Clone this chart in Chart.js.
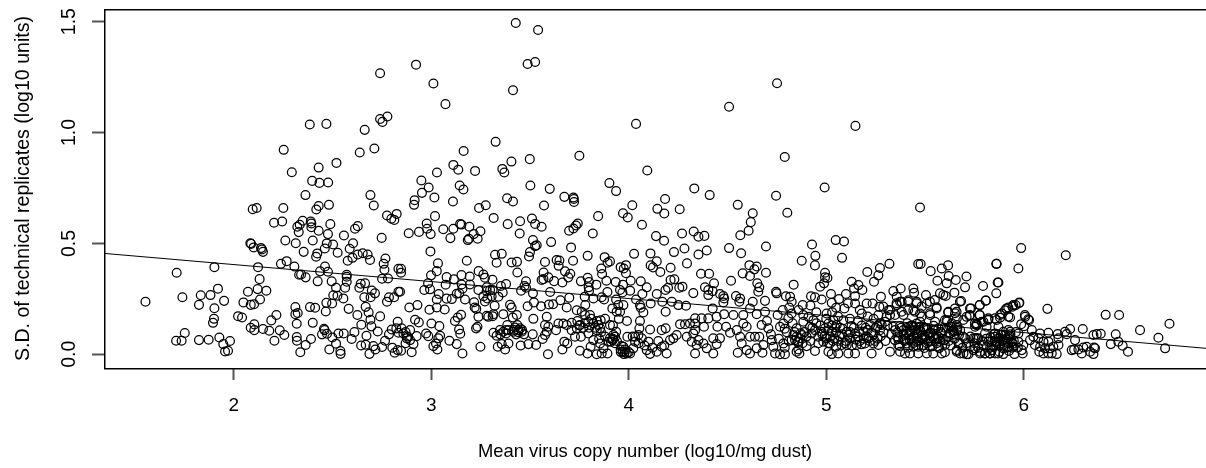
<!DOCTYPE html>
<html>
<head>
<meta charset="utf-8">
<style>html,body{margin:0;padding:0;background:#fff}canvas{display:block}</style>
<script src="https://cdn.jsdelivr.net/npm/chart.js@4"></script>
</head>
<body>
<canvas id="scatter" width="1206" height="468"></canvas>
<script>
var xTickValues = [2,3,4,5,6];
var yTickValues = [0,0.5,1,1.5];
var xTitle = 'Mean virus copy number (log10/mg dust)';
var yTitle = 'S.D. of technical replicates (log10 units)';

// [mean copy number, s.d.], one list per stretch of the x axis
var upperPoints = [[2.741,1.267],[2.778,1.072],[2.741,1.061],[2.753,1.048],[2.385,1.036],[2.469,1.039],[2.663,1.012],[2.253,.922],[2.712,.928],[2.638,.91],[2.52,.863],[2.43,.842],[2.294,.821],[2.397,.782],[2.434,.773],[2.478,.775],[2.363,.718],[2.692,.718],
[3.428,1.494],[3.541,1.462],[2.923,1.306],[3.488,1.309],[3.526,1.318],[3.011,1.221],[3.414,1.191],[4.751,1.222],[3.072,1.128],[4.508,1.116],[4.037,1.039],[5.148,1.03],[3.326,.958],[3.164,.917],[3.75,.895],[4.79,.89],[3.499,.88],[3.406,.869],[3.112,.854],[3.137,.832],[3.222,.827],[3.029,.82],[3.36,.836],[3.37,.82],[4.094,.829],[2.95,.784],[2.987,.752],[2.953,.728],[3.016,.707],[3.144,.761],[3.163,.743],[3.502,.761],[3.6,.746],[3.902,.772],[3.936,.736],[4.332,.748],[4.41,.718],[4.184,.7],[4.746,.715],[4.992,.752],[2.916,.695],[3.11,.689],[3.384,.704],[3.414,.689],[3.674,.71],[3.72,.707],[3.722,.7]];

var lowCopy = [[1.553,.237],[1.711,.368],[1.74,.257],[1.752,.096],[1.708,.061],[1.736,.061],[1.824,.064],[1.873,.066],[1.927,.076],[1.981,.06],[1.947,.046],[1.956,.013],[1.971,.016],[1.9,.16],[1.895,.142],[1.902,.208],[1.951,.241],[1.824,.223],[1.833,.266],[1.882,.267],[1.92,.296],[1.902,.393],[2.022,.172],[2.042,.166],[2.049,.234],[2.072,.282],[2.086,.223],[2.103,.226],[2.121,.294],[2.133,.247],[2.165,.287],[2.131,.339],[2.123,.393],[2.086,.12],[2.104,.135],[2.104,.109],[2.148,.114],[2.18,.106],[2.19,.153],[2.216,.177],[2.233,.108],[2.256,.087],[2.206,.061],[2.312,.213],[2.312,.181],[2.324,.186],[2.319,.138],[2.319,.078],[2.32,.061],[2.364,.042],[2.337,.009],[2.391,.069],[2.4,.142],[2.386,.213],[2.412,.21],[2.466,.193],[2.469,.232],[2.498,.229],[2.582,.205],[2.626,.177],[2.668,.214],[2.683,.189],[2.692,.156],[2.646,.133],[2.697,.126],[2.741,.171],[2.729,.103],[2.672,.084],[2.611,.1],[2.557,.094],[2.53,.094],[2.457,.115],[2.46,.109],[2.447,.09],[2.472,.093],[2.499,.076],[2.518,.048],[2.484,.022],[2.54,.015],[2.541,.002],[2.597,.069],[2.645,.04],[2.668,.043],[2.687,.002],[2.707,.037],[2.717,.022],[2.751,.033],[2.766,.061],[2.786,.09],[2.8,.112],[2.823,.117],[2.83,.147],[2.834,.097],[2.803,.03],[2.815,.007],[2.83,.019],
[2.096,.654],[2.116,.66],[2.251,.66],[2.204,.593],[2.245,.599],[2.418,.653],[2.43,.669],[2.482,.674],[2.709,.671],[2.776,.626],[2.825,.633],[2.798,.611],[2.813,.606],[2.349,.602],[2.334,.584],[2.322,.575],[2.329,.551],[2.39,.599],[2.393,.59],[2.393,.573],[2.43,.557],[2.489,.587],[2.477,.542],[2.558,.536],[2.614,.566],[2.628,.578],[2.749,.525],[2.261,.513],[2.314,.501],[2.4,.513],[2.471,.5],[2.503,.495],[2.604,.501],[2.084,.501],[2.088,.498],[2.101,.482],[2.138,.479],[2.143,.473],[2.148,.462],[2.354,.462],[2.461,.477],[2.423,.455],[2.417,.44],[2.526,.458],[2.587,.476],[2.628,.45],[2.653,.456],[2.678,.45],[2.601,.435],[2.577,.422],[2.69,.425],[2.768,.432],[2.759,.408],[2.763,.381],[2.751,.341],[2.781,.342],[2.834,.386],[2.239,.408],[2.268,.42],[2.307,.396],[2.331,.359],[2.341,.36],[2.364,.347],[2.425,.329],[2.437,.374],[2.462,.396],[2.477,.372],[2.496,.329],[2.518,.3],[2.564,.3],[2.572,.359],[2.572,.35],[2.572,.327],[2.636,.3],[2.643,.318],[2.665,.32],[2.504,.266],[2.525,.264],[2.555,.252],[2.661,.257],[2.693,.257],[2.699,.288],[2.715,.275],[2.786,.257],[2.812,.257],[2.776,.237],[2.834,.282]];

var midCopy = [[2.913,.674],[3.242,.66],[3.276,.672],[3.571,.671],[3.723,.687],[4.018,.672],[3.971,.636],[3.995,.617],[4.145,.656],[4.18,.635],[4.258,.654],[3.845,.623],[4.067,.584],[3.316,.615],[3.387,.587],[3.45,.6],[3.51,.612],[3.526,.588],[3.559,.575],[3.448,.545],[3.019,.623],[2.977,.59],[2.979,.566],[2.886,.546],[2.938,.552],[2.997,.542],[3.061,.564],[3.112,.566],[3.146,.588],[3.153,.585],[3.193,.575],[3.097,.524],[3.185,.515],[3.191,.521],[3.215,.542],[3.249,.555],[3.235,.521],[3.742,.59],[3.733,.581],[3.72,.567],[3.698,.557],[3.818,.545],[4.138,.533],[4.179,.512],[4.27,.545],[4.329,.554],[4.353,.53],[3.515,.515],[3.534,.492],[3.526,.488],[3.607,.506],[3.708,.482],[3.5,.461],[3.495,.441],[2.996,.464],[3.323,.449],[3.357,.453],[3.331,.413],[3.18,.422],[3.034,.41],[3.028,.375],[3.407,.414],[3.434,.417],[3.436,.369],[3.576,.416],[3.635,.425],[3.649,.423],[3.645,.399],[3.718,.422],[3.792,.444],[3.878,.438],[3.893,.413],[3.905,.419],[3.861,.387],[3.865,.362],[4.027,.453],[4.11,.455],[4.229,.461],[4.282,.477],[4.295,.41],[4.353,.45],[4.142,.419],[4.111,.401],[4.123,.392],[4.16,.371],[4.212,.39],[3.959,.393],[3.986,.402],[3.975,.387],[3.986,.366],[3.24,.375],[3.264,.36],[3.272,.345],[3.31,.336],[2.999,.356],[3.078,.348],[3.115,.338],[3.153,.357],[3.195,.351],[3.569,.369],[3.677,.374],[3.704,.363],[3.694,.347],[3.568,.339],[3.559,.335],[3.593,.347],[3.622,.33],[3.664,.324],[3.48,.329],[3.379,.317],[3.353,.308],[3.472,.308],[3.48,.3],[3.758,.329],[3.792,.345],[3.799,.326],[3.797,.302],[3.799,.287],[3.836,.314],[3.887,.332],[3.934,.326],[3.971,.314],[4.01,.332],[4.061,.329],[4.091,.302],[2.847,.386],[2.847,.368],[2.842,.282],[2.984,.32],[2.965,.29],[2.994,.293],[3.073,.314],[3.154,.315],[3.196,.315],[3.158,.296],[3.239,.29],[3.281,.302],[3.298,.29],[3.281,.285],[3.311,.29],[3.362,.279],[3.455,.287],[3.515,.275],[3.602,.281],[3.038,.272],[3.078,.251],[3.028,.247],[3.104,.249],[3.129,.273],[3.142,.275],[3.171,.247],[3.264,.262],[3.284,.252],[3.306,.262],[3.34,.26],[3.217,.235],[3.22,.211],[3.228,.205],[3.272,.238],[3.321,.219],[3.399,.223],[3.407,.211],[3.488,.217],[3.52,.234],[3.556,.217],[3.596,.225],[3.617,.226],[3.654,.244],[3.699,.255],[3.686,.211],[3.777,.26],[3.78,.222],[3.821,.252],[3.863,.257],[3.875,.247],[3.892,.281],[3.936,.247],[3.956,.29],[3.968,.279],[4.007,.287],[4.037,.247],[4.069,.272],[4.111,.229],[4.142,.272],[4.186,.29],[4.199,.3],[4.212,.335],[4.231,.338],[4.256,.3],[4.272,.305],[4.327,.276],[4.29,.219],[4.218,.237],[4.17,.237],[4.187,.192],[4.251,.222],[4.057,.222],[4.061,.21],[4.074,.189],[3.947,.222],[3.973,.222],[3.917,.207],[3.939,.192],[3.956,.192],[2.889,.211],[2.93,.222],[2.991,.201],[3.028,.211],[3.068,.202],[3.151,.178],[3.134,.166],[3.12,.15],[2.918,.156],[2.937,.144],[3.001,.139],[3.041,.127],[3.141,.112],[3.147,.093],[3.227,.117],[3.234,.124],[3.239,.169],[3.281,.174],[3.289,.169],[3.315,.181],[3.311,.172],[3.365,.181],[3.433,.177],[3.413,.166],[3.517,.16],[3.585,.169],[3.737,.199],[3.762,.192],[3.779,.177],[3.804,.177],[3.795,.147],[3.821,.139],[3.846,.132],[3.858,.154],[3.991,.15],[4.057,.15],[4.054,.117],[4.108,.112],[4.167,.109],[4.187,.117],[4.26,.136],[4.285,.136],[4.31,.139],[4.336,.162],[4.336,.139],[4.336,.109],[3.644,.139],[3.669,.139],[3.686,.132],[3.711,.142],[3.737,.117],[3.753,.132],[3.905,.132],[3.385,.132],[3.436,.132],[3.424,.121],[3.441,.109],[3.45,.117],[3.458,.102],[3.416,.102],[3.365,.102],[3.379,.094],[3.391,.109],[3.348,.109],[3.315,.097],[3.331,.084],[3.576,.132],[3.593,.124],[3.585,.102],[3.576,.087],[3.514,.09],[3.564,.069],[3.632,.109],[3.711,.109],[3.728,.079],[3.758,.079],[3.796,.094],[3.838,.109],[3.855,.117],[2.85,.117],[2.893,.109],[2.859,.094],[2.876,.072],[2.893,.064],[2.91,.046],[2.926,.082],[2.974,.094],[2.985,.082],[3.045,.084],[3.036,.072],[3.024,.049],[3.011,.037],[3.031,.022],[3.092,.061],[3.129,.046],[3.158,.004],[2.901,.009],[2.847,.016],[3.249,.034],[3.337,.034],[3.357,.046],[3.374,.022],[3.391,.049],[3.453,.04],[3.492,.046],[3.531,.042],[3.591,0],[3.664,.022],[3.674,.057],[3.689,.049],[3.753,.016],[3.791,.004],[3.807,.034],[3.838,0],[3.863,.004],[3.892,.004],[3.855,.049],[3.821,.064],[3.872,.027],[3.905,.072],[3.919,.064],[3.91,.057],[3.931,.079],[3.897,.057],[3.936,.102],[3.922,.087],[3.959,.022],[3.969,.012],[3.976,.001],[3.964,.037],[3.99,.004],[4.007,.004],[3.981,.022],[3.973,.034],[3.993,.079],[4.023,.027],[4.032,.079],[4.049,.087],[4.066,.072],[4.032,.057],[4.1,.057],[4.091,.019],[4.108,.002],[4.142,.012],[4.167,.034],[4.192,.004],[4.209,.064],[4.226,.072],[4.243,.087],[4.294,.079],[4.319,.057],[4.336,.004],[4.344,.042],[4.353,.064],[4.327,.094]];

var highCopy = [[4.552,.674],[4.803,.638],[4.628,.636],[4.618,.596],[4.607,.557],[4.565,.537],[4.383,.534],[5.475,.662],[4.508,.479],[4.395,.468],[4.569,.456],[4.695,.486],[4.928,.495],[5.048,.515],[5.09,.509],[4.945,.444],[5.08,.435],[4.876,.422],[4.943,.401],[5.32,.408],[5.272,.389],[5.264,.356],[5.208,.371],[5.242,.327],[5.466,.407],[5.478,.407],[5.529,.375],[5.585,.387],[5.617,.401],[5.62,.353],[5.563,.332],[5.61,.32],[5.656,.335],[5.71,.351],[5.703,.302],[5.794,.308],[5.861,.408],[5.868,.324],[5.861,.275],[5.807,.242],[5.777,.222],[5.683,.24],[5.649,.278],[5.576,.275],[5.593,.267],[5.605,.263],[4.611,.402],[4.648,.396],[4.636,.383],[4.577,.365],[4.614,.353],[4.695,.368],[4.407,.363],[4.366,.363],[4.518,.332],[4.432,.32],[4.386,.302],[4.403,.29],[4.425,.285],[4.403,.267],[4.462,.272],[4.479,.263],[4.483,.252],[4.479,.234],[4.543,.263],[4.564,.252],[4.56,.237],[4.651,.32],[4.661,.302],[4.656,.282],[4.69,.241],[4.628,.237],[4.614,.207],[4.746,.282],[4.749,.275],[4.835,.314],[4.796,.262],[4.817,.26],[4.825,.237],[4.813,.211],[4.881,.222],[4.923,.262],[4.943,.257],[4.969,.305],[4.989,.32],[4.994,.347],[4.994,.368],[5.006,.344],[4.977,.247],[5.024,.272],[5.028,.232],[5.065,.249],[5.1,.272],[5.129,.327],[5.141,.297],[5.163,.312],[5.183,.29],[5.146,.262],[5.146,.229],[5.092,.207],[5.205,.229],[5.235,.229],[5.269,.214],[5.277,.26],[5.34,.285],[5.377,.297],[5.357,.26],[5.374,.237],[5.357,.222],[5.315,.199],[5.416,.244],[5.441,.297],[5.445,.278],[5.458,.237],[5.505,.267],[5.509,.229],[5.559,.207],[5.526,.177],[5.475,.184],[5.441,.199],[5.391,.177],[5.323,.177],[5.264,.177],[5.18,.184],[5.087,.154],[5.002,.184],[4.935,.154],[4.884,.177],[4.825,.184],[4.754,.177],[4.69,.192],[4.648,.181],[4.58,.177],[4.53,.177],[4.483,.181],[4.425,.207],[4.445,.169],[4.403,.162],[4.369,.162],[4.449,.124],[4.381,.124],[4.493,.124],[4.513,.097],[4.547,.109],[4.58,.139],[4.597,.124],[4.564,.079],[4.572,.049],[4.614,.079],[4.639,.079],[4.661,.079],[4.673,.132],[4.707,.117],[4.428,.072],[4.462,.072],[4.445,.046],[4.378,.049],[4.395,.027],[4.428,.004],[4.552,.007],[4.597,.019],[4.614,.004],[4.648,.027],[4.677,.007],[4.682,.042],[4.724,.064],[4.732,.034],[4.741,.004],[4.766,0],[4.791,0],[4.783,.049],[4.766,.124],[4.783,.139],[4.808,.162],[4.85,.117],[4.834,.087],[4.85,.079],[4.867,.072],[4.842,.064],[4.859,.057],[4.876,.087],[4.825,.064],[4.85,.012],[4.864,.004],[4.859,.022],[4.901,.037],[4.943,.015],[4.884,.147],[4.91,.169],[4.918,.124],[4.943,.109],[4.926,.094],[4.96,.079],[4.977,.102],[4.994,.117],[5.011,.139],[5.036,.154],[5.053,.132],[5.028,.102],[5.002,.072],[4.985,.057],[5.019,.049],[5.011,.012],[5.028,.001],[5.061,.004],[5.05,.034],[5.078,.042],[5.104,.042],[5.112,.004],[5.146,.004],[5.154,.042],[5.12,.072],[5.146,.094],[5.104,.102],[5.188,.102],[5.205,.079],[5.222,.132],[5.196,.049],[5.23,.004],[5.239,.049],[5.264,.042],[5.323,.012],[5.281,.132],[5.298,.147],[5.272,.109],[5.34,.124],[5.348,.064],[5.365,.042],[5.374,.012],[5.399,.004],[5.424,.004],[5.466,.004],[5.509,.004],[5.542,.004],[5.585,.004],[5.601,.009],[5.391,.109],[5.408,.094],[5.424,.109],[5.441,.124],[5.458,.139],[5.475,.147],[5.492,.124],[5.509,.109],[5.526,.094],[5.542,.109],[5.475,.109],[5.458,.094],[5.441,.079],[5.424,.064],[5.408,.049],[5.391,.064],[5.458,.057],[5.483,.072],[5.5,.079],[5.517,.057],[5.492,.042],[5.441,.034],[5.466,.034],[5.526,.034],[5.551,.072],[5.568,.079],[5.585,.094],[5.576,.057],[5.601,.064],[5.568,.034],[5.601,.042],[5.627,.094],[5.644,.109],[5.661,.132],[5.618,.117],[5.678,.109],[5.661,.162],[5.61,.154],[5.568,.117],[5.551,.147],[5.703,.072],[5.661,.019],[5.678,.004],[5.711,0],[5.728,.034],[5.754,.072],[5.77,.072],[5.745,.019],[5.779,.012],[5.804,.004],[5.829,.004],[5.855,.004],[5.812,.034],[5.855,.057],[5.872,.072],[5.762,.132],[5.796,.147],[5.753,.139],[5.821,.162],[5.855,.162],[5.812,.124],[5.711,.169],[5.728,.177],[5.652,.207],[5.618,.192]];

var topCopy = [[5.987,.479],[6.213,.447],[5.863,.408],[5.973,.387],[5.872,.324],[5.976,.231],[5.959,.222],[5.943,.215],[5.922,.211],[5.905,.199],[5.889,.184],[6.12,.205],[5.733,.207],[5.725,.174],[5.776,.177],[5.821,.157],[5.88,.165],[5.931,.166],[6.007,.169],[6.027,.154],[5.987,.136],[6.002,.127],[6.041,.109],[6.125,.097],[6.172,.091],[6.235,.114],[6.299,.114],[6.209,.102],[6.218,.091],[6.26,.064],[6.353,.087],[6.37,.091],[6.39,.093],[6.415,.178],[6.483,.177],[6.589,.109],[6.738,.138],[6.682,.075],[6.716,.027],[6.466,.09],[6.441,.046],[6.479,.057],[6.501,.039],[6.528,.012],[6.353,.001],[6.356,.031],[6.361,.027],[6.336,.012],[6.294,.004],[6.302,.031],[6.277,.022],[6.243,.019],[6.255,.022],[6.319,.034],[6.167,.001],[6.142,.004],[6.125,.004],[6.1,.004],[6.079,.012],[6.176,.042],[6.15,.034],[6.125,.057],[6.1,.057],[6.074,.072],[6.049,.079],[6.057,.042],[6.032,.064],[6.083,.094],[6.176,.072],[6.133,.027],[6.108,.027],[6.083,.034],[5.995,.004],[5.953,.001],[5.897,.001],[5.872,.004],[5.83,.004],[5.804,.004],[5.779,.004],[5.855,.079],[5.88,.072],[5.905,.087],[5.922,.072],[5.939,.057],[5.905,.057],[5.88,.042],[5.863,.057],[5.897,.027],[5.922,.034],[5.948,.034],[5.846,.034],[5.998,.042],[5.99,.019],[5.973,.057],[5.922,.109],[5.897,.102],[5.872,.124],[5.855,.094],[5.931,.102],[5.973,.094],[5.745,.072],[5.762,.072],[5.804,.094],[5.821,.057],[5.796,.042],[5.754,.027],[5.695,.079],[5.678,.049],[5.661,.012],[5.695,.004],[5.72,0],[5.644,.102],[5.661,.109],[5.627,.094],[5.635,.124],[5.762,.139],[5.787,.147],[5.754,.124]];

// second pass over the crowded bands below 0.2
var crowded = [[4.7,.15],[4.72,.09],[4.76,.07],[4.8,.1],[4.79,.03],[4.81,.06],[4.88,.05],[4.89,.1],[4.9,.08],[4.92,.06],[4.93,.12],[4.95,.14],[4.96,.05],[4.97,.13],[4.98,.09],[5,.16],[5.01,.05],[5.02,.08],[5.03,.13],[5.04,.07],[5.05,.1],[5.06,.06],[5.07,.12],[5.08,.09],[5.1,.06],[5.12,.1],[5.13,.04],[5.14,.12],[5.16,.08],[5.17,.06],[5.18,.13],[5.19,.07],[5.21,.11],[5.22,.06],[5.24,.09],[5.25,.12],[5.26,.07],[5.29,.1],[5.3,.06],[5.31,.13],[5.33,.09],[5.35,.11],[5.36,.08],[5.38,.12],[5.4,.07],[5.41,.14],[5.42,.09],[5.43,.13],[5.44,.05],[5.45,.11],[5.46,.08],[5.47,.06],[5.48,.1],[5.49,.07],[5.5,.12],[5.51,.05],[5.52,.09],[5.53,.06],[5.54,.08],[5.55,.11],[5.56,.05],[5.58,.1],[5.59,.07],[5.6,.12],[5.62,.06],[5.63,.04],[5.65,.07],[5.67,.05],[5.69,.03],[5.71,.05],[5.73,.08],[5.75,.05],[5.77,.03],[5.79,.06],[5.81,.07],[5.83,.03],[5.84,.06],[5.86,.04],[5.87,.09],[5.89,.06],[5.9,.04],[5.91,.07],[5.92,.05],[5.93,.08],[5.94,.03],[5.95,.06],[5.96,.1],[5.97,.03],[3.42,.11],[3.43,.09],[3.44,.1],[3.46,.11],[3.47,.09],[3.35,.09],[3.38,.11],[3.92,.07],[3.93,.05],[3.94,.06],[3.96,.01],[3.98,.01],[4,.01],[4.02,.08],[4.05,.05],[4.08,.04],[4.12,.03],[4.15,.06],[4.18,.04],[3.75,.13],[3.77,.12],[3.8,.12],[3.83,.12],[3.85,.07],[3.86,.1],[3.88,.08],[2.87,.1],[2.88,.08],[2.87,.05]];

// third pass, rings picked out of the tightest part of the 5 to 6 band
var crowdedHigh = [[5.289,.215],[5.323,.2],[5.356,.23],[5.382,.237],[5.415,.237],[5.458,.23],[5.483,.215],[5.525,.237],[5.55,.245],[5.559,.212],[5.618,.188],[5.66,.192],[5.677,.237],[5.728,.207],[5.778,.222],[5.809,.242],[5.913,.207],[5.947,.222],[5.978,.233],[6.006,.177],[6.023,.158],[5.88,.177],[5.922,.17],[5.778,.177],[5.82,.155],[5.863,.155],[5.761,.132],[5.694,.155],[5.652,.185],[5.601,.155],[5.525,.185],[5.483,.17],[5.449,.192],[5.415,.2],[5.382,.192],[5.348,.177],[5.306,.17],[5.272,.14],
[5.373,.127],[5.407,.119],[5.436,.13],[5.471,.124],[5.51,.118],[5.544,.129],[5.36,.098],[5.392,.09],[5.426,.101],[5.462,.093],[5.488,.087],[5.528,.099],[5.557,.091],[5.365,.068],[5.398,.06],[5.431,.072],[5.467,.062],[5.5,.067],[5.532,.059],[5.564,.07],[5.372,.038],[5.414,.03],[5.455,.041],[5.497,.029],[5.538,.036],[5.572,.028],[5.612,.148],[5.627,.125],[5.636,.14],[5.648,.09],[5.664,.118],[5.672,.086],[5.618,.08],[5.832,.078],[5.851,.092],[5.869,.051],[5.884,.088],[5.9,.064],[5.915,.03],[5.933,.09],[5.945,.048],[5.838,.018],[5.877,.012],[5.925,.015],
[4.992,.083],[5.012,.108],[5.034,.06],[5.045,.122],[5.067,.083],[5.083,.115],[5.095,.05],[5.113,.088],[5.128,.128],[5.15,.066],[5.166,.103],[5.178,.045],[5.2,.12],[5.215,.072],[5.228,.098],[5.246,.06],[5.258,.128],[5.276,.082],[4.84,.1],[4.855,.055],[4.87,.095],[4.79,.115],[4.83,.14],[5.03,.19],[5.06,.17],[5.12,.16],[5.16,.15],[5.21,.17],[5.24,.16],[4.95,.19],[5.05,.21],[5.11,.23],[5.17,.2],[4.92,.22],[4.86,.2],[4.78,.2],[3.74,.15],[3.78,.14],[3.81,.16],[3.84,.15],[3.88,.16],[3.92,.13],[3.95,.16]];

var fitLine = [[1.343,.455],[6.923,.027]];

function toXY(pairs) {
  return pairs.map(function(p) { return {x: p[0], y: p[1]}; });
}

// box round the plot plus the axis titles
var frame = {
  id: 'frame',
  afterDraw: function(chart) {
    var c = chart.ctx, a = chart.chartArea;
    c.save();
    c.strokeStyle = '#000';
    c.lineWidth = 1.5;
    c.strokeRect(a.left + .75, a.top + .75, a.right - a.left, a.bottom - a.top);
    c.fillStyle = '#000';
    c.textAlign = 'center';
    c.textBaseline = 'alphabetic';
    c.font = '18.4px "Liberation Sans"';
    c.fillText(xTitle, 645, 456.5);
    c.font = '19.6px "Liberation Sans"';
    c.translate(29, 188.5);
    c.rotate(-Math.PI / 2);
    c.fillText(yTitle, 0, 0);
    c.restore();
  }
};

new Chart(document.getElementById('scatter'), {
  type: 'scatter',
  data: {
    datasets: [{
      data: toXY(upperPoints.concat(lowCopy, midCopy, highCopy, topCopy, crowded, crowdedHigh)),
      pointStyle: 'circle',
      pointRadius: 4.4,
      pointBorderWidth: 1.25,
      pointBorderColor: '#000',
      pointBackgroundColor: 'rgba(0,0,0,0)'
    }, {
      type: 'line',
      data: toXY(fitLine),
      borderColor: '#000',
      borderWidth: 1,
      pointRadius: 0,
      fill: false
    }]
  },
  options: {
    responsive: false,
    animation: false,
    layout: {autoPadding: false, padding: {top: 9, right: 0, left: 0, bottom: 0}},
    plugins: {legend: {display: false}, tooltip: {enabled: false}},
    scales: {
      x: {
        type: 'linear',
        min: 1.343,
        max: 6.923,
        afterFit: function(s) { s.height = 100; s.paddingLeft = 0; s.paddingRight = 0; },
        afterBuildTicks: function(s) { s.ticks = xTickValues.map(function(v) { return {value: v}; }); },
        grid: {drawOnChartArea: false, drawTicks: true, tickLength: 12, tickColor: '#555', tickWidth: 2},
        border: {display: false},
        ticks: {color: '#000', padding: 14, maxRotation: 0, autoSkip: false, font: {family: 'Liberation Sans', size: 19}}
      },
      y: {
        type: 'linear',
        min: -0.0617,
        max: 1.557,
        afterFit: function(s) { s.width = 104; s.paddingTop = 0; s.paddingBottom = 0; },
        afterBuildTicks: function(s) { s.ticks = yTickValues.map(function(v) { return {value: v}; }); },
        grid: {drawOnChartArea: false, drawTicks: true, tickLength: 12, tickColor: '#555', tickWidth: 2},
        border: {display: false},
        ticks: {
          color: '#000', padding: 9, minRotation: 90, maxRotation: 90, crossAlign: 'center', autoSkip: false,
          font: {family: 'Liberation Sans', size: 19.5},
          callback: function(v) { return v.toFixed(1); }
        }
      }
    }
  },
  plugins: [frame]
});
</script>
</body>
</html>
